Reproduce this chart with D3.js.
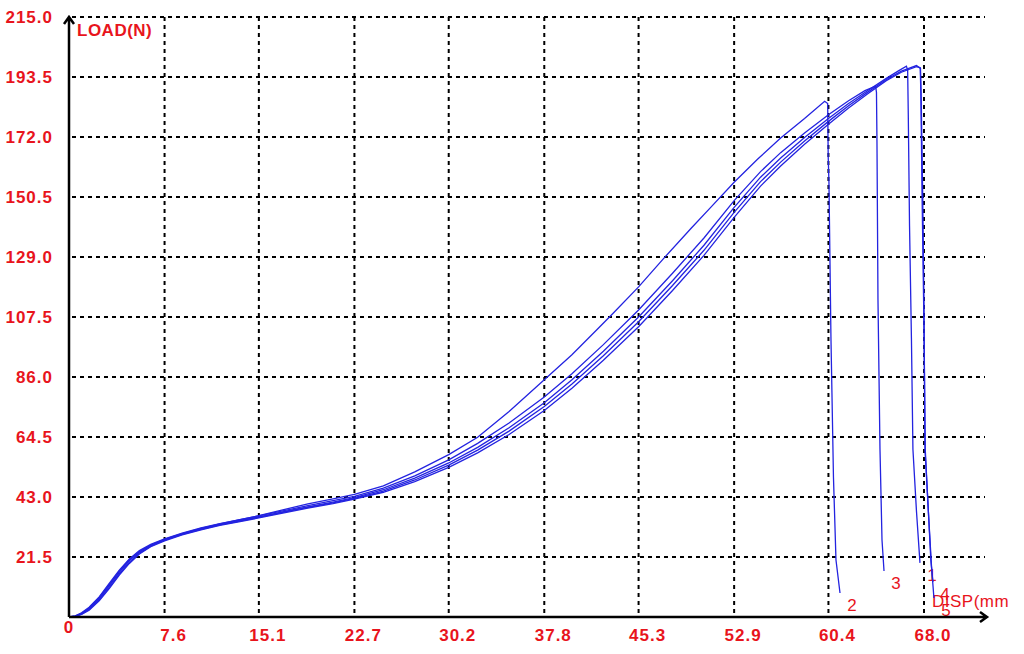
<!DOCTYPE html>
<html>
    <head>
        <title>LOAD vs DISP</title>
        <script src="https://d3js.org/d3.v7.min.js" charset="utf-8"></script>
        <style type="text/css">
        body{
            margin: 0;
            background-color: white;
        }
        .red{
            fill: #e8141c;
            font-family: 'Liberation Sans', Arial, sans-serif;
        }
        </style>
    </head>
    <body>
        <div id="wrapper"></div>

        <script type="text/javascript">
            // tick labels
            var xTicks = [0, 7.6, 15.1, 22.7, 30.2, 37.8, 45.3, 52.9, 60.4, 68.0];
            var xTickLabels = ["0", "7.6", "15.1", "22.7", "30.2", "37.8", "45.3", "52.9", "60.4", "68.0"];
            var yTicks = [21.5, 43, 64.5, 86, 107.5, 129, 150.5, 172, 193.5, 215];
            var yTickLabels = ["21.5", "43.0", "64.5", "86.0", "107.5", "129.0", "150.5", "172.0", "193.5", "215.0"];
            var curveNames = ["1", "2", "3", "4", "5"];

            // [disp mm, load N] for each specimen
            var curve1 = [[0,0],[0.5,0.3],[1,1.2],[1.6,3],[2.4,6.6],[3.2,11.2],[4,16],[4.8,20.2],[5.6,23.3],[6.5,25.7],[7.6,27.7],[9,29.8],[10.5,31.6],[12,33.2],[13.6,34.6],[15.1,35.9],[17,37.7],[19,39.5],[21,41.2],[22.7,42.8],[25,45.6],[27.5,49.8],[30.2,55.2],[32.5,60.8],[35,67.8],[37.8,76.8],[40,85],[42.5,95.2],[45.3,107.5],[48,120.5],[50.5,133.2],[52.9,146.8],[55,157.6],[56.6,164.5],[58.5,171.8],[60.4,178.6],[62,184],[63.5,188.6],[65,193],[66,195.8],[66.6,197.4],[66.7,196],[66.75,180],[66.85,140],[67,100],[67.12,60],[67.4,38],[67.68,19.4]];
            var curve2 = [[0,0],[0.5,0.3],[1,1.3],[1.6,3.2],[2.4,6.9],[3.2,11.6],[4,16.4],[4.8,20.5],[5.6,23.5],[6.5,25.8],[7.6,27.8],[9,29.9],[10.5,31.8],[12,33.4],[13.6,34.9],[15.1,36.3],[17,38.4],[19,40.5],[21,42.3],[22.7,43.9],[25,47],[27.5,52],[30.2,58.2],[32.5,64.4],[35,73.6],[37.8,85],[40,94],[42,103],[43.2,108.5],[45.3,118.3],[47.3,128.5],[49.5,139.4],[51,146.6],[52.9,155.8],[54.8,164.2],[56.6,171.6],[58.5,178.6],[60.1,184.8],[60.34,184],[60.38,165],[60.44,156],[60.6,100],[60.8,50],[61,20.4],[61.32,8.6]];
            var curve3 = [[0,0],[0.5,0.4],[1,1.5],[1.6,3.5],[2.4,7.2],[3.2,12],[4,16.8],[4.8,20.8],[5.6,23.8],[6.5,26],[7.6,28],[9,30.1],[10.5,31.9],[12,33.5],[13.6,34.9],[15.1,36.2],[17,38],[19,39.9],[21,41.7],[22.7,43.2],[25,46.2],[27.5,50.6],[30.2,56.3],[32.5,62.2],[35,69.5],[37.8,78.8],[40,87.2],[42.5,97.6],[45.3,110],[48,123.2],[50.5,135.8],[52.9,149.2],[55,159.6],[56.6,166.4],[58.5,173.4],[60.4,180],[62,185],[63.3,188.6],[64.15,190.2],[64.22,188],[64.26,170],[64.34,113.6],[64.5,60],[64.66,27.6],[64.82,16.5]];
            var curve4 = [[0,0],[0.5,0.2],[1,1],[1.6,2.7],[2.4,6.2],[3.2,10.6],[4,15.4],[4.8,19.6],[5.6,22.9],[6.5,25.4],[7.6,27.5],[9,29.6],[10.5,31.4],[12,33],[13.6,34.4],[15.1,35.7],[17,37.5],[19,39.3],[21,40.9],[22.7,42.5],[25,45.1],[27.5,49.1],[30.2,54.4],[32.5,59.8],[35,66.6],[37.8,75.4],[40,83.5],[42.5,93.6],[45.3,105.8],[48,118.8],[50.5,131.4],[52.9,145],[55,156],[56.6,163],[58.5,170.6],[60.4,177.6],[62,183.2],[63.5,188],[65,192.6],[66.2,195.6],[67.4,197.6],[67.72,196.6],[67.78,185],[67.9,150],[68,110],[68.08,60],[68.3,42],[68.55,20],[68.71,12.5]];
            var curve5 = [[0,0],[0.5,0.2],[1,0.9],[1.6,2.4],[2.4,5.8],[3.2,10.2],[4,15],[4.8,19.2],[5.6,22.6],[6.5,25.2],[7.6,27.3],[9,29.4],[10.5,31.2],[12,32.8],[13.6,34.2],[15.1,35.5],[17,37.2],[19,39],[21,40.6],[22.7,42.2],[25,44.7],[27.5,48.5],[30.2,53.6],[32.5,58.8],[35,65.4],[37.8,74],[40,82],[42.5,92],[45.3,104],[48,117],[50.5,129.6],[52.9,143.2],[55,154.4],[56.6,161.6],[58.5,169.4],[60.4,176.6],[62,182.4],[63.5,187.4],[65,192.2],[66.2,195.2],[67.4,197.2],[67.7,196.8],[67.75,188],[67.85,150],[67.98,110],[68.1,60],[68.32,40],[68.6,18],[68.79,6.8]];
            var curves = [curve1, curve2, curve3, curve4, curve5];

            var width = 1024;
            var height = 654;
            // note: "top" is taken by window.top, so plot* names
            var plotLeft = 69, plotRight = 924, plotTop = 17, plotBottom = 617;
            var gridEnd = 985;

            var x = d3.scaleLinear().domain([0, 68]).range([plotLeft, plotRight]);
            var y = d3.scaleLinear().domain([0, 215]).range([plotBottom, plotTop]);

            var svg = d3.select("#wrapper")
                        .append("svg")
                        .attr("width", width)
                        .attr("height", height)
                        .style("display", "block");

            // dashed grid
            svg.selectAll("line.hgrid")
                .data(yTicks)
                .enter()
                .append("line")
                .attr("class", "hgrid")
                .attr("x1", plotLeft + 3)
                .attr("x2", gridEnd)
                .attr("y1", function(d){ return y(d); })
                .attr("y2", function(d){ return y(d); })
                .attr("stroke", "black")
                .attr("stroke-width", 2)
                .attr("stroke-dasharray", "4,4");

            svg.selectAll("line.vgrid")
                .data(xTicks.slice(1))
                .enter()
                .append("line")
                .attr("class", "vgrid")
                .attr("x1", function(d){ return x(d); })
                .attr("x2", function(d){ return x(d); })
                .attr("y1", plotTop)
                .attr("y2", plotBottom)
                .attr("stroke", "black")
                .attr("stroke-width", 2)
                .attr("stroke-dasharray", "4,4");

            // y labels
            svg.selectAll("text.ylab")
                .data(yTicks)
                .enter()
                .append("text")
                .attr("class", "red ylab")
                .attr("x", 53)
                .attr("y", function(d){ return y(d) + 6; })
                .attr("text-anchor", "end")
                .style("font-size", "17px")
                .style("font-weight", "bold")
                .style("letter-spacing", "1px")
                .text(function(d, i){ return yTickLabels[i]; });

            // x labels, "0" sits a bit higher than the rest
            svg.selectAll("text.xlab")
                .data(xTicks)
                .enter()
                .append("text")
                .attr("class", "red xlab")
                .attr("x", function(d, i){ return i == 0 ? x(d) : x(d) + 9; })
                .attr("y", function(d, i){ return i == 0 ? 633 : 641; })
                .attr("text-anchor", "middle")
                .style("font-size", "17px")
                .style("font-weight", "bold")
                .style("letter-spacing", "1px")
                .text(function(d, i){ return xTickLabels[i]; });

            svg.append("text")
                .attr("class", "red")
                .attr("x", 77)
                .attr("y", 36)
                .style("font-size", "17px")
                .style("font-weight", "bold")
                .style("letter-spacing", "0.5px")
                .text("LOAD(N)");

            svg.append("text")
                .attr("class", "red")
                .attr("x", 932)
                .attr("y", 607)
                .style("font-size", "17px")
                .style("letter-spacing", "0.5px")
                .text("DISP(mm");

            // specimen numbers next to where each curve ends (drawn under the lines)
            svg.selectAll("text.cname")
                .data(curves)
                .enter()
                .append("text")
                .attr("class", "red cname")
                .attr("x", function(d){ return x(d[d.length - 1][0]) + 12; })
                .attr("y", function(d){ return y(d[d.length - 1][1]) + 18; })
                .attr("text-anchor", "middle")
                .style("font-size", "17px")
                .text(function(d, i){ return curveNames[i]; });

            var line = d3.line()
                .x(function(d){ return x(d[0]); })
                .y(function(d){ return y(d[1]); });

            svg.selectAll("path.curve")
                .data(curves)
                .enter()
                .append("path")
                .attr("class", "curve")
                .attr("d", line)
                .attr("fill", "none")
                .attr("stroke", "#2323e0")
                .attr("stroke-width", 1.3);

            // axes with open arrow heads
            svg.append("path")
                .attr("d", "M" + plotLeft + "," + plotBottom + "L987," + plotBottom + "M980," + (plotBottom - 5) + "L987," + plotBottom + "L980," + (plotBottom + 5))
                .attr("fill", "none")
                .attr("stroke", "black")
                .attr("stroke-width", 2.5);
            svg.append("path")
                .attr("d", "M" + plotLeft + "," + plotBottom + "L" + plotLeft + "," + plotTop + "M" + (plotLeft - 5) + "," + (plotTop + 7) + "L" + plotLeft + "," + plotTop + "L" + (plotLeft + 5) + "," + (plotTop + 7))
                .attr("fill", "none")
                .attr("stroke", "black")
                .attr("stroke-width", 2.5);
        </script>
    </body>
</html>
